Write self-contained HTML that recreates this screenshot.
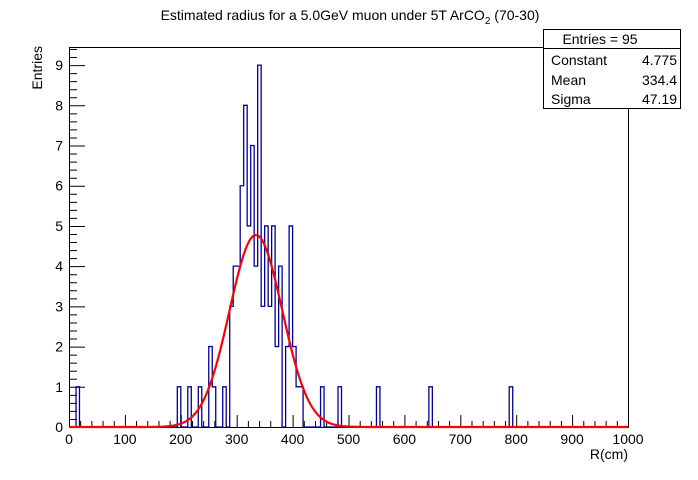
<!DOCTYPE html>
<html><head><meta charset="utf-8"><style>
body{margin:0;background:#fff}
svg text{font-family:"Liberation Sans",sans-serif;fill:#000}
</style></head><body>
<svg id="c" width="698" height="475" xmlns="http://www.w3.org/2000/svg">
<rect width="698" height="475" fill="#fff"/>
<text x="350" y="20" font-size="14" text-anchor="middle">Estimated radius for a 5.0GeV muon under 5T ArCO<tspan font-size="10" dy="4">2</tspan><tspan dy="-4"> (70-30)</tspan></text>
<g id="frame"></g>
<g id="hist"></g>
<g id="fit"></g>
<text x="628" y="459" font-size="14" text-anchor="end">R(cm)</text>
<text transform="translate(42,46) rotate(-90)" font-size="14" text-anchor="end">Entries</text>
<g>
<rect x="543.5" y="29.5" width="137" height="79" fill="#fff" stroke="#000"/>
<line x1="543.5" y1="48.5" x2="680.5" y2="48.5" stroke="#000"/>
<text x="600" y="44" font-size="14" text-anchor="middle">Entries = 95</text>
<text x="551" y="65" font-size="14">Constant</text><text x="677" y="65" font-size="14" text-anchor="end">4.775</text>
<text x="551" y="85" font-size="14">Mean</text><text x="677" y="85" font-size="14" text-anchor="end">334.4</text>
<text x="551" y="104" font-size="14">Sigma</text><text x="677" y="104" font-size="14" text-anchor="end">47.19</text>
</g>
</svg>
<script>
const binWidth = 6.25;
const nBins = 160;
const binIndices = [2,31,34,37,40,41,44,46,47,48,49,50,51,52,53,54,55,56,57,58,59,60,62,63,64,65,66,72,77,88,103,126];
const binCounts  = [1,1,1,1,2,1,1,3,4,4,6,8,5,7,4,9,3,5,3,5,2,4,2,5,2,1,1,1,1,1,1,1];
const fitConstant = 4.775, fitMean = 334.4, fitSigma = 47.19;
const xTicks = [0,100,200,300,400,500,600,700,800,900,1000];
const yTicks = [0,1,2,3,4,5,6,7,8,9];

const X0=69,X1=628,Y0=427,Y1=47,XMAX=1000,YMAX=9.45;
const sx=v=>X0+(v/XMAX)*(X1-X0);
const sy=v=>Y0-(v/YMAX)*(Y0-Y1);
const NS="http://www.w3.org/2000/svg";
function mk(tag,attrs,parent){const e=document.createElementNS(NS,tag);for(const k in attrs)e.setAttribute(k,attrs[k]);parent.appendChild(e);return e;}

const frame=document.getElementById('frame');
const fr=mk('rect',{x:X0+0.5,y:Y1+0.5,width:X1-X0,height:Y0-Y1,fill:'none',stroke:'#000'},frame);


let td='';
for(let v=0;v<=1000;v+=20){const x=sx(v)+0.5;const L=(v%100===0)?12:6;td+=`M${x},${Y0}V${Y0-L}`;}
for(let v=0;v<=9.4;v+=0.2){const y=sy(v)+0.5;const L=(Math.abs(v-Math.round(v))<1e-6)?16:8;td+=`M${X0},${y}H${X0+L}`;}
const tk=mk('path',{d:td,stroke:'#000','stroke-width':1,fill:'none'},frame);


xTicks.forEach(v=>{const t=mk('text',{x:sx(v),y:Y0+17,'font-size':14,'text-anchor':'middle'},frame);t.textContent=v;

});
yTicks.forEach(v=>{const t=mk('text',{x:X0-6,y:sy(v)+5,'font-size':14,'text-anchor':'end'},frame);t.textContent=v;

});

const counts=new Array(nBins).fill(0);
binIndices.forEach((b,i)=>counts[b]=binCounts[i]);
let d=`M${sx(0)},${sy(0)}`;
for(let i=0;i<nBins;i++){const xl=sx(i*binWidth),xr=sx((i+1)*binWidth),y=sy(counts[i]);d+=`L${xl},${y}L${xr},${y}`;}
d+=`L${sx(XMAX)},${sy(0)}`;
const h=mk('path',{d:d,fill:'none',stroke:'#000099','stroke-width':1.3},document.getElementById('hist'));



let fd='';
for(let v=0;v<=1000;v+=2){const g=fitConstant*Math.exp(-0.5*((v-fitMean)/fitSigma)**2);fd+=(v?'L':'M')+sx(v)+','+sy(g);}
const f=mk('path',{d:fd,fill:'none',stroke:'#ff0000','stroke-width':2.2},document.getElementById('fit'));


</script>
</body></html>
